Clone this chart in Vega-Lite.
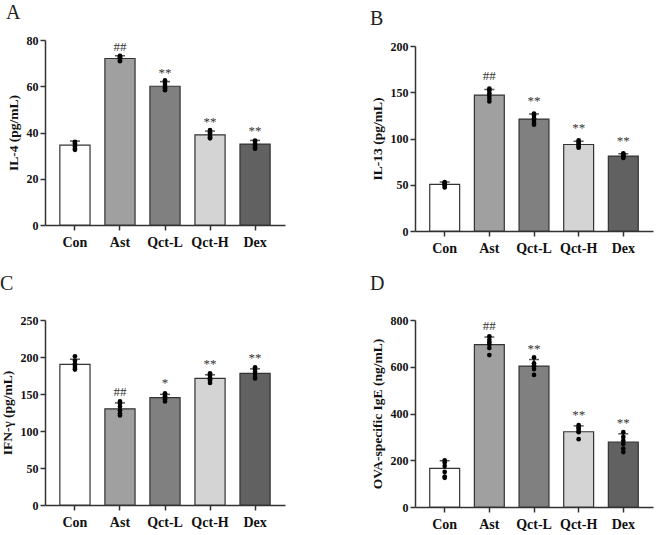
{
  "$schema": "https://vega.github.io/schema/vega-lite/v6.json",
  "background": "white",
  "padding": {"left": 0, "top": 3, "right": 2, "bottom": 5},
  "config": {
    "view": {"stroke": null},
    "axis": {
      "domainColor": "#333333", "domainWidth": 1.5, "tickColor": "#333333", "tickWidth": 1.5, "tickSize": 5,
      "labelFont": "Liberation Serif", "labelFontWeight": "bold", "labelColor": "#111111",
      "titleFont": "Liberation Serif", "titleFontWeight": "bold", "titleColor": "#111111", "grid": false,
      "labelOverlap": false
    },
    "axisX": {"labelFontSize": 14, "labelAngle": 0, "labelPadding": 5, "title": null},
    "axisY": {"labelFontSize": 12, "titleFontSize": 13.5, "titlePadding": 6, "labelPadding": 2},
    "title": {"font": "Liberation Serif", "fontSize": 20, "fontWeight": "normal", "color": "#222222", "anchor": "start", "frame": "bounds"}
  },
  "datasets": {
    "A_s": [
      {"group": "Con", "mean": 34.5, "upper": 36.3, "sig": ""},
      {"group": "Ast", "mean": 72, "upper": 73.2, "sig": "##"},
      {"group": "Qct-L", "mean": 60, "upper": 62, "sig": "**"},
      {"group": "Qct-H", "mean": 39, "upper": 40.6, "sig": "**"},
      {"group": "Dex", "mean": 35, "upper": 36.6, "sig": "**"}
    ],
    "A_p": [
      {"group": "Con", "rep": 1, "value": 36}, {"group": "Con", "rep": 2, "value": 35.5}, {"group": "Con", "rep": 3, "value": 35}, {"group": "Con", "rep": 4, "value": 34}, {"group": "Con", "rep": 5, "value": 33}, {"group": "Con", "rep": 6, "value": 32.5},
      {"group": "Ast", "rep": 1, "value": 73.2}, {"group": "Ast", "rep": 2, "value": 72.8}, {"group": "Ast", "rep": 3, "value": 72.5}, {"group": "Ast", "rep": 4, "value": 72}, {"group": "Ast", "rep": 5, "value": 71.3}, {"group": "Ast", "rep": 6, "value": 70.8},
      {"group": "Qct-L", "rep": 1, "value": 62.5}, {"group": "Qct-L", "rep": 2, "value": 61.5}, {"group": "Qct-L", "rep": 3, "value": 60.5}, {"group": "Qct-L", "rep": 4, "value": 59.5}, {"group": "Qct-L", "rep": 5, "value": 59}, {"group": "Qct-L", "rep": 6, "value": 58.3},
      {"group": "Qct-H", "rep": 1, "value": 41}, {"group": "Qct-H", "rep": 2, "value": 40}, {"group": "Qct-H", "rep": 3, "value": 39.5}, {"group": "Qct-H", "rep": 4, "value": 38.5}, {"group": "Qct-H", "rep": 5, "value": 38}, {"group": "Qct-H", "rep": 6, "value": 37.5},
      {"group": "Dex", "rep": 1, "value": 36.5}, {"group": "Dex", "rep": 2, "value": 36}, {"group": "Dex", "rep": 3, "value": 35}, {"group": "Dex", "rep": 4, "value": 34.5}, {"group": "Dex", "rep": 5, "value": 33.5}, {"group": "Dex", "rep": 6, "value": 33}
    ],
    "B_s": [
      {"group": "Con", "mean": 50.5, "upper": 53, "sig": ""},
      {"group": "Ast", "mean": 147, "upper": 153, "sig": "##"},
      {"group": "Qct-L", "mean": 121, "upper": 126.5, "sig": "**"},
      {"group": "Qct-H", "mean": 93.5, "upper": 97, "sig": "**"},
      {"group": "Dex", "mean": 81, "upper": 83.5, "sig": "**"}
    ],
    "B_p": [
      {"group": "Con", "rep": 1, "value": 53}, {"group": "Con", "rep": 2, "value": 52}, {"group": "Con", "rep": 3, "value": 51}, {"group": "Con", "rep": 4, "value": 50}, {"group": "Con", "rep": 5, "value": 49}, {"group": "Con", "rep": 6, "value": 47},
      {"group": "Ast", "rep": 1, "value": 154}, {"group": "Ast", "rep": 2, "value": 152}, {"group": "Ast", "rep": 3, "value": 149}, {"group": "Ast", "rep": 4, "value": 146}, {"group": "Ast", "rep": 5, "value": 143}, {"group": "Ast", "rep": 6, "value": 140},
      {"group": "Qct-L", "rep": 1, "value": 127}, {"group": "Qct-L", "rep": 2, "value": 125}, {"group": "Qct-L", "rep": 3, "value": 122}, {"group": "Qct-L", "rep": 4, "value": 120}, {"group": "Qct-L", "rep": 5, "value": 117}, {"group": "Qct-L", "rep": 6, "value": 115},
      {"group": "Qct-H", "rep": 1, "value": 98}, {"group": "Qct-H", "rep": 2, "value": 96}, {"group": "Qct-H", "rep": 3, "value": 94}, {"group": "Qct-H", "rep": 4, "value": 93}, {"group": "Qct-H", "rep": 5, "value": 91}, {"group": "Qct-H", "rep": 6, "value": 90},
      {"group": "Dex", "rep": 1, "value": 84}, {"group": "Dex", "rep": 2, "value": 83}, {"group": "Dex", "rep": 3, "value": 82}, {"group": "Dex", "rep": 4, "value": 81}, {"group": "Dex", "rep": 5, "value": 80}, {"group": "Dex", "rep": 6, "value": 79}
    ],
    "C_s": [
      {"group": "Con", "mean": 190, "upper": 197, "sig": ""},
      {"group": "Ast", "mean": 130, "upper": 138, "sig": "##"},
      {"group": "Qct-L", "mean": 145, "upper": 149.5, "sig": "*"},
      {"group": "Qct-H", "mean": 171, "upper": 176, "sig": "**"},
      {"group": "Dex", "mean": 178, "upper": 184, "sig": "**"}
    ],
    "C_p": [
      {"group": "Con", "rep": 1, "value": 201}, {"group": "Con", "rep": 2, "value": 195}, {"group": "Con", "rep": 3, "value": 191}, {"group": "Con", "rep": 4, "value": 188}, {"group": "Con", "rep": 5, "value": 185}, {"group": "Con", "rep": 6, "value": 183},
      {"group": "Ast", "rep": 1, "value": 140}, {"group": "Ast", "rep": 2, "value": 137}, {"group": "Ast", "rep": 3, "value": 133}, {"group": "Ast", "rep": 4, "value": 128}, {"group": "Ast", "rep": 5, "value": 124}, {"group": "Ast", "rep": 6, "value": 121},
      {"group": "Qct-L", "rep": 1, "value": 151}, {"group": "Qct-L", "rep": 2, "value": 149}, {"group": "Qct-L", "rep": 3, "value": 147}, {"group": "Qct-L", "rep": 4, "value": 145}, {"group": "Qct-L", "rep": 5, "value": 143}, {"group": "Qct-L", "rep": 6, "value": 140},
      {"group": "Qct-H", "rep": 1, "value": 178}, {"group": "Qct-H", "rep": 2, "value": 175}, {"group": "Qct-H", "rep": 3, "value": 172}, {"group": "Qct-H", "rep": 4, "value": 170}, {"group": "Qct-H", "rep": 5, "value": 168}, {"group": "Qct-H", "rep": 6, "value": 165},
      {"group": "Dex", "rep": 1, "value": 186}, {"group": "Dex", "rep": 2, "value": 183}, {"group": "Dex", "rep": 3, "value": 180}, {"group": "Dex", "rep": 4, "value": 177}, {"group": "Dex", "rep": 5, "value": 173}, {"group": "Dex", "rep": 6, "value": 171}
    ],
    "D_s": [
      {"group": "Con", "mean": 165, "upper": 198, "sig": ""},
      {"group": "Ast", "mean": 695, "upper": 727, "sig": "##"},
      {"group": "Qct-L", "mean": 603, "upper": 631, "sig": "**"},
      {"group": "Qct-H", "mean": 322, "upper": 347, "sig": "**"},
      {"group": "Dex", "mean": 278, "upper": 313, "sig": "**"}
    ],
    "D_p": [
      {"group": "Con", "rep": 1, "value": 200}, {"group": "Con", "rep": 2, "value": 190}, {"group": "Con", "rep": 3, "value": 175}, {"group": "Con", "rep": 4, "value": 150}, {"group": "Con", "rep": 5, "value": 130}, {"group": "Con", "rep": 6, "value": 125},
      {"group": "Ast", "rep": 1, "value": 730}, {"group": "Ast", "rep": 2, "value": 715}, {"group": "Ast", "rep": 3, "value": 705}, {"group": "Ast", "rep": 4, "value": 695}, {"group": "Ast", "rep": 5, "value": 680}, {"group": "Ast", "rep": 6, "value": 650},
      {"group": "Qct-L", "rep": 1, "value": 640}, {"group": "Qct-L", "rep": 2, "value": 615}, {"group": "Qct-L", "rep": 3, "value": 605}, {"group": "Qct-L", "rep": 4, "value": 600}, {"group": "Qct-L", "rep": 5, "value": 590}, {"group": "Qct-L", "rep": 6, "value": 565},
      {"group": "Qct-H", "rep": 1, "value": 350}, {"group": "Qct-H", "rep": 2, "value": 340}, {"group": "Qct-H", "rep": 3, "value": 335}, {"group": "Qct-H", "rep": 4, "value": 325}, {"group": "Qct-H", "rep": 5, "value": 320}, {"group": "Qct-H", "rep": 6, "value": 290},
      {"group": "Dex", "rep": 1, "value": 320}, {"group": "Dex", "rep": 2, "value": 300}, {"group": "Dex", "rep": 3, "value": 285}, {"group": "Dex", "rep": 4, "value": 270}, {"group": "Dex", "rep": 5, "value": 250}, {"group": "Dex", "rep": 6, "value": 235}
    ]
  },
  "vconcat": [
    {
      "hconcat": [
        {
          "width": 240, "height": 185,
          "title": {"text": "A", "offset": 11},
          "layer": [
            {"data": {"name": "A_s"}, "mark": {"type": "bar", "stroke": "#333333", "strokeWidth": 1.2},
             "encoding": {
               "x": {"field": "group", "type": "nominal", "sort": ["Con", "Ast", "Qct-L", "Qct-H", "Dex"], "scale": {"paddingInner": 0.33, "paddingOuter": 0.33}},
               "y": {"field": "mean", "type": "quantitative", "scale": {"domain": [0, 80], "nice": false}, "axis": {"title": "IL-4 (pg/mL)", "values": [0, 20, 40, 60, 80]}},
               "fill": {"field": "group", "type": "nominal", "scale": {"domain": ["Con", "Ast", "Qct-L", "Qct-H", "Dex"], "range": ["#ffffff", "#a0a0a0", "#808080", "#d4d4d4", "#616161"]}, "legend": null}}},
            {"data": {"name": "A_s"}, "mark": {"type": "rule", "color": "#111111", "strokeWidth": 1.5},
             "encoding": {"x": {"field": "group", "type": "nominal", "sort": ["Con", "Ast", "Qct-L", "Qct-H", "Dex"]}, "y": {"field": "mean", "type": "quantitative"}, "y2": {"field": "upper"}}},
            {"data": {"name": "A_s"}, "mark": {"type": "tick", "color": "#111111", "thickness": 1.5, "size": 10},
             "encoding": {"x": {"field": "group", "type": "nominal", "sort": ["Con", "Ast", "Qct-L", "Qct-H", "Dex"]}, "y": {"field": "upper", "type": "quantitative"}}},
            {"data": {"name": "A_p"}, "mark": {"type": "circle", "fill": "#000000", "opacity": 1, "size": 22},
             "encoding": {"x": {"field": "group", "type": "nominal", "sort": ["Con", "Ast", "Qct-L", "Qct-H", "Dex"]}, "y": {"field": "value", "type": "quantitative"}}},
            {"data": {"name": "A_s"}, "mark": {"type": "text", "font": "Liberation Serif", "fontSize": 13, "fill": "#333333", "baseline": "bottom", "dy": -2},
             "encoding": {"x": {"field": "group", "type": "nominal", "sort": ["Con", "Ast", "Qct-L", "Qct-H", "Dex"]}, "y": {"field": "upper", "type": "quantitative"}, "text": {"field": "sig"}}}
          ]
        },
        {
          "width": 238, "height": 191,
          "title": {"text": "B", "offset": 11},
          "layer": [
            {"data": {"name": "B_s"}, "mark": {"type": "bar", "stroke": "#333333", "strokeWidth": 1.2},
             "encoding": {
               "x": {"field": "group", "type": "nominal", "sort": ["Con", "Ast", "Qct-L", "Qct-H", "Dex"], "scale": {"paddingInner": 0.33, "paddingOuter": 0.33}},
               "y": {"field": "mean", "type": "quantitative", "scale": {"domain": [0, 200], "nice": false, "range": [191, 6]}, "axis": {"title": "IL-13 (pg/mL)", "values": [0, 50, 100, 150, 200]}},
               "fill": {"field": "group", "type": "nominal", "scale": {"domain": ["Con", "Ast", "Qct-L", "Qct-H", "Dex"], "range": ["#ffffff", "#a0a0a0", "#808080", "#d4d4d4", "#616161"]}, "legend": null}}},
            {"data": {"name": "B_s"}, "mark": {"type": "rule", "color": "#111111", "strokeWidth": 1.5},
             "encoding": {"x": {"field": "group", "type": "nominal", "sort": ["Con", "Ast", "Qct-L", "Qct-H", "Dex"]}, "y": {"field": "mean", "type": "quantitative"}, "y2": {"field": "upper"}}},
            {"data": {"name": "B_s"}, "mark": {"type": "tick", "color": "#111111", "thickness": 1.5, "size": 10},
             "encoding": {"x": {"field": "group", "type": "nominal", "sort": ["Con", "Ast", "Qct-L", "Qct-H", "Dex"]}, "y": {"field": "upper", "type": "quantitative"}}},
            {"data": {"name": "B_p"}, "mark": {"type": "circle", "fill": "#000000", "opacity": 1, "size": 22},
             "encoding": {"x": {"field": "group", "type": "nominal", "sort": ["Con", "Ast", "Qct-L", "Qct-H", "Dex"]}, "y": {"field": "value", "type": "quantitative"}}},
            {"data": {"name": "B_s"}, "mark": {"type": "text", "font": "Liberation Serif", "fontSize": 13, "fill": "#333333", "baseline": "bottom", "dy": -6},
             "encoding": {"x": {"field": "group", "type": "nominal", "sort": ["Con", "Ast", "Qct-L", "Qct-H", "Dex"]}, "y": {"field": "upper", "type": "quantitative"}, "text": {"field": "sig"}}}
          ]
        }
      ],
      "spacing": 85
    },
    {
      "hconcat": [
        {
          "width": 240, "height": 185,
          "title": {"text": "C", "offset": 20},
          "layer": [
            {"data": {"name": "C_s"}, "mark": {"type": "bar", "stroke": "#333333", "strokeWidth": 1.2},
             "encoding": {
               "x": {"field": "group", "type": "nominal", "sort": ["Con", "Ast", "Qct-L", "Qct-H", "Dex"], "scale": {"paddingInner": 0.33, "paddingOuter": 0.33}},
               "y": {"field": "mean", "type": "quantitative", "scale": {"domain": [0, 250], "nice": false}, "axis": {"title": "IFN-γ (pg/mL)", "values": [0, 50, 100, 150, 200, 250], "labelOverlap": false, "tickCount": 6}},
               "fill": {"field": "group", "type": "nominal", "scale": {"domain": ["Con", "Ast", "Qct-L", "Qct-H", "Dex"], "range": ["#ffffff", "#a0a0a0", "#808080", "#d4d4d4", "#616161"]}, "legend": null}}},
            {"data": {"name": "C_s"}, "mark": {"type": "rule", "color": "#111111", "strokeWidth": 1.5},
             "encoding": {"x": {"field": "group", "type": "nominal", "sort": ["Con", "Ast", "Qct-L", "Qct-H", "Dex"]}, "y": {"field": "mean", "type": "quantitative"}, "y2": {"field": "upper"}}},
            {"data": {"name": "C_s"}, "mark": {"type": "tick", "color": "#111111", "thickness": 1.5, "size": 10},
             "encoding": {"x": {"field": "group", "type": "nominal", "sort": ["Con", "Ast", "Qct-L", "Qct-H", "Dex"]}, "y": {"field": "upper", "type": "quantitative"}}},
            {"data": {"name": "C_p"}, "mark": {"type": "circle", "fill": "#000000", "opacity": 1, "size": 22},
             "encoding": {"x": {"field": "group", "type": "nominal", "sort": ["Con", "Ast", "Qct-L", "Qct-H", "Dex"]}, "y": {"field": "value", "type": "quantitative"}}},
            {"data": {"name": "C_s"}, "mark": {"type": "text", "font": "Liberation Serif", "fontSize": 13, "fill": "#333333", "baseline": "bottom", "dy": -4},
             "encoding": {"x": {"field": "group", "type": "nominal", "sort": ["Con", "Ast", "Qct-L", "Qct-H", "Dex"]}, "y": {"field": "upper", "type": "quantitative"}, "text": {"field": "sig"}}}
          ]
        },
        {
          "width": 238, "height": 187,
          "title": {"text": "D", "offset": 20},
          "layer": [
            {"data": {"name": "D_s"}, "mark": {"type": "bar", "stroke": "#333333", "strokeWidth": 1.2},
             "encoding": {
               "x": {"field": "group", "type": "nominal", "sort": ["Con", "Ast", "Qct-L", "Qct-H", "Dex"], "scale": {"paddingInner": 0.33, "paddingOuter": 0.33}},
               "y": {"field": "mean", "type": "quantitative", "scale": {"domain": [0, 800], "nice": false}, "axis": {"title": "OVA-specific IgE (ng/mL)", "values": [0, 200, 400, 600, 800]}},
               "fill": {"field": "group", "type": "nominal", "scale": {"domain": ["Con", "Ast", "Qct-L", "Qct-H", "Dex"], "range": ["#ffffff", "#a0a0a0", "#808080", "#d4d4d4", "#616161"]}, "legend": null}}},
            {"data": {"name": "D_s"}, "mark": {"type": "rule", "color": "#111111", "strokeWidth": 1.5},
             "encoding": {"x": {"field": "group", "type": "nominal", "sort": ["Con", "Ast", "Qct-L", "Qct-H", "Dex"]}, "y": {"field": "mean", "type": "quantitative"}, "y2": {"field": "upper"}}},
            {"data": {"name": "D_s"}, "mark": {"type": "tick", "color": "#111111", "thickness": 1.5, "size": 10},
             "encoding": {"x": {"field": "group", "type": "nominal", "sort": ["Con", "Ast", "Qct-L", "Qct-H", "Dex"]}, "y": {"field": "upper", "type": "quantitative"}}},
            {"data": {"name": "D_p"}, "mark": {"type": "circle", "fill": "#000000", "opacity": 1, "size": 22},
             "encoding": {"x": {"field": "group", "type": "nominal", "sort": ["Con", "Ast", "Qct-L", "Qct-H", "Dex"]}, "y": {"field": "value", "type": "quantitative"}}},
            {"data": {"name": "D_s"}, "mark": {"type": "text", "font": "Liberation Serif", "fontSize": 13, "fill": "#333333", "baseline": "bottom", "dy": -4},
             "encoding": {"x": {"field": "group", "type": "nominal", "sort": ["Con", "Ast", "Qct-L", "Qct-H", "Dex"]}, "y": {"field": "upper", "type": "quantitative"}, "text": {"field": "sig"}}}
          ]
        }
      ],
      "spacing": 85
    }
  ],
  "spacing": 19
}
